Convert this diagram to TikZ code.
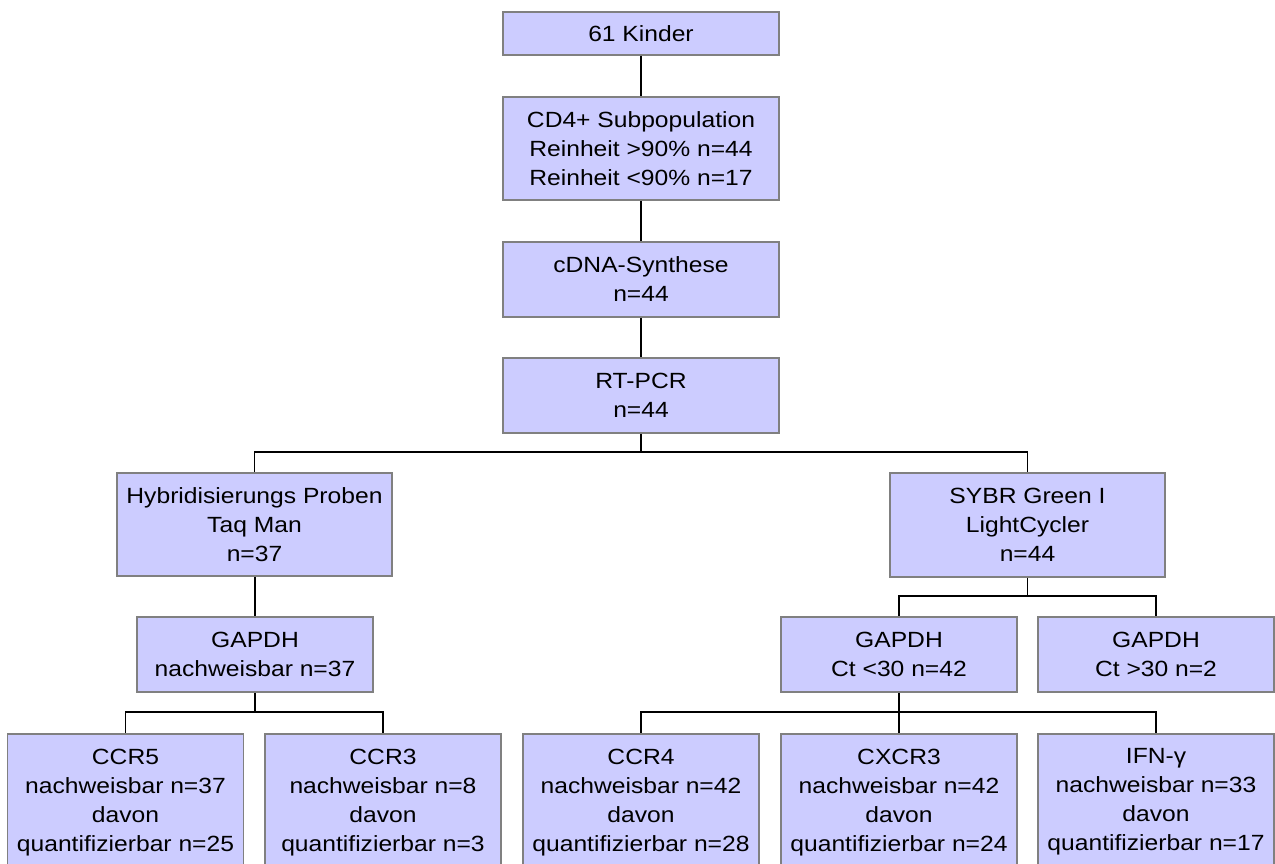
\documentclass[tikz,border=0pt]{standalone}
\usepackage{fontspec}
\setmainfont[FakeStretch=1.12]{Liberation Sans}
\definecolor{boxfill}{HTML}{CCCCFF}
\definecolor{boxline}{HTML}{808080}
\newcommand{\btext}[1]{\parbox[c][140pt][t]{236pt}{\centering\vspace*{15pt}#1}}
\tikzset{
  box/.style={draw=boxline, fill=boxfill, line width=1.5pt, align=center, inner sep=0pt,
    font=\fontsize{22}{29}\selectfont},
  wbox/.style={box, minimum width=276, minimum height=75},
  sbox/.style={box, minimum width=236, minimum height=75},
  bbox/.style={box, anchor=north},
  conn/.style={draw=black, line width=1.5pt},
}
\begin{document}
\begin{tikzpicture}[x=1pt,y=-1pt]
\useasboundingbox (0,0) rectangle (1275,864);
\clip (0,0) rectangle (1275,864);
% main column
\node[wbox, minimum height=43] (kinder) at (641,33.5) {61 Kinder};
\node[wbox, minimum height=103] (cd4) at (641,148.5) {CD4+ Subpopulation\\Reinheit >90\% n=44\\Reinheit <90\% n=17};
\node[wbox] (cdna) at (641,279.5) {cDNA-Synthese\\n=44};
\node[wbox] (rtpcr) at (641,395.5) {RT-PCR\\n=44};
% second level
\node[wbox, minimum width=275, minimum height=103] (hyb) at (254.5,524.5) {Hybridisierungs Proben\\Taq Man\\n=37};
\node[wbox, minimum width=275, minimum height=104] (sybr) at (1027.5,525) {SYBR Green I\\LightCycler\\n=44};
% GAPDH level
\node[sbox] (gl) at (255,654.5) {GAPDH\\nachweisbar n=37};
\node[sbox] (gm) at (899,654.5) {GAPDH\\Ct <30 n=42};
\node[sbox] (gr) at (1156,654.5) {GAPDH\\Ct >30 n=2};
% bottom row
\node[bbox] (ccr5) at (125.5,733) {\btext{CCR5\\nachweisbar n=37\\davon\\quantifizierbar n=25}};
\node[bbox] (ccr3) at (383,733) {\btext{CCR3\\nachweisbar n=8\\davon\\quantifizierbar n=3}};
\node[bbox] (ccr4) at (641,733) {\btext{CCR4\\nachweisbar n=42\\davon\\quantifizierbar n=28}};
\node[bbox] (cxcr3) at (899,733) {\btext{CXCR3\\nachweisbar n=42\\davon\\quantifizierbar n=24}};
\node[bbox] (ifn) at (1156,733) {\btext{IFN-γ\\nachweisbar n=33\\davon\\quantifizierbar n=17}};
% junctions
\coordinate (j1) at (641,452);
\coordinate (j2) at (1027.5,596);
\coordinate (j3) at (255,712);
\coordinate (j4) at (899,712);
% connectors
\draw[conn] (kinder.south) -- (cd4.north);
\draw[conn] (cd4.south) -- (cdna.north);
\draw[conn] (cdna.south) -- (rtpcr.north);
\draw[conn] (rtpcr.south) -- (j1) -| (hyb.north);
\draw[conn] (j1) -| (sybr.north);
\draw[conn] (hyb.south -| gl.north) -- (gl.north);
\draw[conn] (sybr.south) -- (j2) -| (gm.north);
\draw[conn] (j2) -| (gr.north);
\draw[conn] (gl.south) -- (j3) -| (ccr5.north);
\draw[conn] (j3) -| (ccr3.north);
\draw[conn] (gm.south) -- (j4) -| (ccr4.north);
\draw[conn] (j4) -- (cxcr3.north);
\draw[conn] (j4) -| (ifn.north);
\end{tikzpicture}
\end{document}
